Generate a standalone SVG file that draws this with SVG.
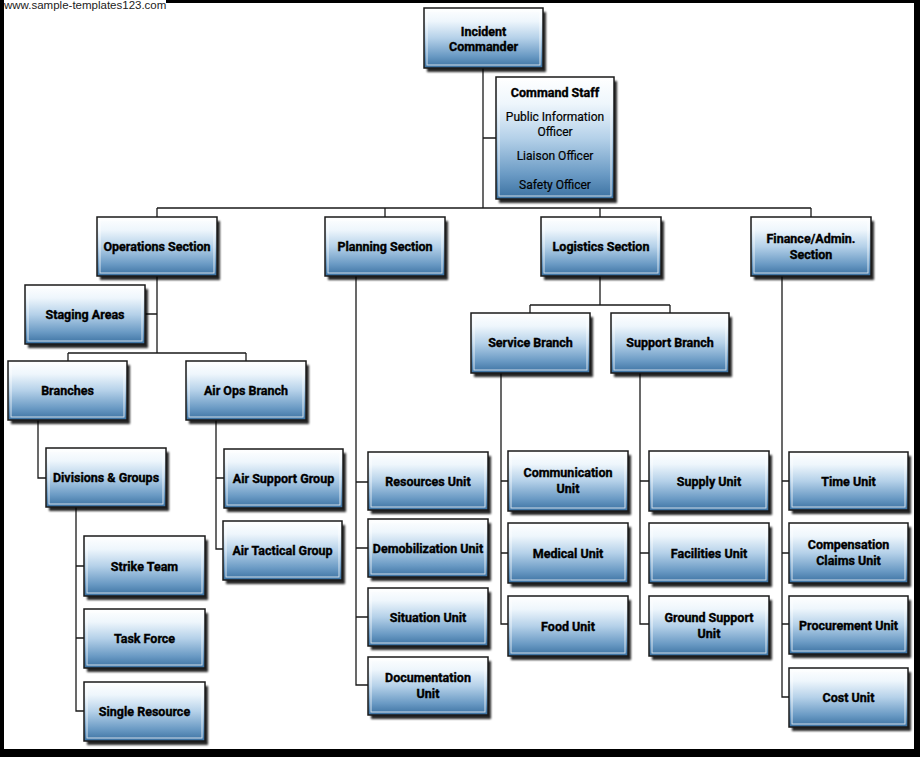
<svg xmlns="http://www.w3.org/2000/svg" width="920" height="757" viewBox="0 0 920 757">
<defs>
<linearGradient id="g" x1="0" y1="0" x2="0" y2="1">
<stop offset="0" stop-color="#ffffff"/>
<stop offset="0.22" stop-color="#eef6fc"/>
<stop offset="0.5" stop-color="#b5d1e9"/>
<stop offset="0.8" stop-color="#6a9ac4"/>
<stop offset="1" stop-color="#3a70a0"/>
</linearGradient>
<filter id="sh" x="-10%" y="-10%" width="130%" height="130%">
<feGaussianBlur stdDeviation="1.2"/>
</filter>
<style>
.sh{fill:#000;opacity:0.85;filter:url(#sh)}
.bx{fill:url(#g);stroke:#1a1a1a;stroke-width:1.5}
.in{fill:none;stroke:#ffffff;stroke-opacity:0.75;stroke-width:1}
.t{font-family:Roboto,"Liberation Sans",sans-serif;font-weight:bold;font-size:12.5px;fill:#000;stroke:#000;stroke-width:0.35;text-anchor:middle}
.r{font-family:Roboto,"Liberation Sans",sans-serif;font-weight:normal;font-size:12px;fill:#000;stroke:#000;stroke-width:0.2;text-anchor:middle}
.ln{fill:none;stroke:#1a1a1a;stroke-width:1.3}
.wm{font-family:"Liberation Sans",Arial,sans-serif;font-size:11.5px;fill:#222}
</style>
</defs>
<rect width="920" height="757" fill="#ffffff"/>
<g id="frame">
<rect x="0" y="0" width="920" height="3" fill="#000"/>
<rect x="0" y="0" width="4" height="757" fill="#000"/>
<rect x="914" y="0" width="6" height="757" fill="#000"/>
<rect x="0" y="749" width="920" height="8" fill="#000"/>
<rect x="4" y="0" width="162" height="11" fill="#fff"/>
<text class="wm" x="4" y="8.5">www.sample-templates123.com</text>
</g>
<g id="connectors">
<path class="ln" d="M483 68V208M483 138H496M157 208H811M157 208V217M385 208V217M600 208V217M811 208V217"/>
<path class="ln" d="M157 276V353M145 314H157M68 353H246M68 353V361M246 353V361"/>
<path class="ln" d="M38 420V478H46"/>
<path class="ln" d="M76 507V711H84M76 566H84M76 638H84"/>
<path class="ln" d="M216 420V549H223M216 478H224"/>
<path class="ln" d="M356 276V685H368M356 482H368M356 548H368M356 617H368"/>
<path class="ln" d="M600 276V305M530 305H670M530 305V313M670 305V313"/>
<path class="ln" d="M501 373V624H508M501 481H508M501 553H508"/>
<path class="ln" d="M640 373V624H649M640 481H649M640 553H649"/>
<path class="ln" d="M782 276V697H789M782 481H789M782 553H789M782 624H789"/>
</g>
<g id="n-ic"><rect class="sh" x="427" y="12" width="119" height="60"/><rect class="bx" x="424" y="8" width="119" height="60"/><rect class="in" x="427" y="11" width="113" height="54"/><text class="t" x="483.5" y="36">Incident</text><text class="t" x="483.5" y="51">Commander</text></g>
<g id="n-cs"><rect class="sh" x="499" y="81" width="118" height="122"/><rect class="bx" x="496" y="77" width="118" height="122"/><rect class="in" x="499" y="80" width="112" height="116"/><text class="t" x="555" y="97">Command Staff</text><text class="r" x="555" y="121">Public Information</text><text class="r" x="555" y="136">Officer</text><text class="r" x="555" y="160">Liaison Officer</text><text class="r" x="555" y="189">Safety Officer</text></g>
<g id="n-ops"><rect class="sh" x="100" y="221" width="120" height="59"/><rect class="bx" x="97" y="217" width="120" height="59"/><rect class="in" x="100" y="220" width="114" height="53"/><text class="t" x="157" y="251">Operations Section</text></g>
<g id="n-plan"><rect class="sh" x="328" y="221" width="120" height="59"/><rect class="bx" x="325" y="217" width="120" height="59"/><rect class="in" x="328" y="220" width="114" height="53"/><text class="t" x="385" y="251">Planning Section</text></g>
<g id="n-log"><rect class="sh" x="544" y="221" width="120" height="59"/><rect class="bx" x="541" y="217" width="120" height="59"/><rect class="in" x="544" y="220" width="114" height="53"/><text class="t" x="601" y="251">Logistics Section</text></g>
<g id="n-fin"><rect class="sh" x="754" y="221" width="120" height="59"/><rect class="bx" x="751" y="217" width="120" height="59"/><rect class="in" x="754" y="220" width="114" height="53"/><text class="t" x="811" y="243">Finance/Admin.</text><text class="t" x="811" y="259">Section</text></g>
<g id="n-staging"><rect class="sh" x="28" y="289" width="120" height="59"/><rect class="bx" x="25" y="285" width="120" height="59"/><rect class="in" x="28" y="288" width="114" height="53"/><text class="t" x="85" y="319">Staging Areas</text></g>
<g id="n-branches"><rect class="sh" x="11" y="365" width="119" height="59"/><rect class="bx" x="8" y="361" width="119" height="59"/><rect class="in" x="11" y="364" width="113" height="53"/><text class="t" x="67.5" y="395">Branches</text></g>
<g id="n-airops"><rect class="sh" x="189" y="365" width="120" height="59"/><rect class="bx" x="186" y="361" width="120" height="59"/><rect class="in" x="189" y="364" width="114" height="53"/><text class="t" x="246" y="395">Air Ops Branch</text></g>
<g id="n-divgroups"><rect class="sh" x="49" y="452" width="120" height="59"/><rect class="bx" x="46" y="448" width="120" height="59"/><rect class="in" x="49" y="451" width="114" height="53"/><text class="t" x="106" y="482">Divisions &amp; Groups</text></g>
<g id="n-airsupport"><rect class="sh" x="227" y="453" width="119" height="59"/><rect class="bx" x="224" y="449" width="119" height="59"/><rect class="in" x="227" y="452" width="113" height="53"/><text class="t" x="283.5" y="483">Air Support Group</text></g>
<g id="n-airtactical"><rect class="sh" x="226" y="525" width="119" height="59"/><rect class="bx" x="223" y="521" width="119" height="59"/><rect class="in" x="226" y="524" width="113" height="53"/><text class="t" x="282.5" y="555">Air Tactical Group</text></g>
<g id="n-strike"><rect class="sh" x="87" y="540" width="121" height="60"/><rect class="bx" x="84" y="536" width="121" height="60"/><rect class="in" x="87" y="539" width="115" height="54"/><text class="t" x="144.5" y="571">Strike Team</text></g>
<g id="n-taskforce"><rect class="sh" x="87" y="613" width="121" height="59"/><rect class="bx" x="84" y="609" width="121" height="59"/><rect class="in" x="87" y="612" width="115" height="53"/><text class="t" x="144.5" y="643">Task Force</text></g>
<g id="n-single"><rect class="sh" x="87" y="686" width="121" height="59"/><rect class="bx" x="84" y="682" width="121" height="59"/><rect class="in" x="87" y="685" width="115" height="53"/><text class="t" x="144.5" y="716">Single Resource</text></g>
<g id="n-resources"><rect class="sh" x="371" y="456" width="120" height="58"/><rect class="bx" x="368" y="452" width="120" height="58"/><rect class="in" x="371" y="455" width="114" height="52"/><text class="t" x="428" y="485.5">Resources Unit</text></g>
<g id="n-demob"><rect class="sh" x="371" y="523" width="120" height="58"/><rect class="bx" x="368" y="519" width="120" height="58"/><rect class="in" x="371" y="522" width="114" height="52"/><text class="t" x="428" y="552.5">Demobilization Unit</text></g>
<g id="n-situation"><rect class="sh" x="371" y="592" width="120" height="58"/><rect class="bx" x="368" y="588" width="120" height="58"/><rect class="in" x="371" y="591" width="114" height="52"/><text class="t" x="428" y="621.5">Situation Unit</text></g>
<g id="n-documentation"><rect class="sh" x="371" y="661" width="120" height="58"/><rect class="bx" x="368" y="657" width="120" height="58"/><rect class="in" x="371" y="660" width="114" height="52"/><text class="t" x="428" y="682">Documentation</text><text class="t" x="428" y="698">Unit</text></g>
<g id="n-service"><rect class="sh" x="474" y="317" width="119" height="60"/><rect class="bx" x="471" y="313" width="119" height="60"/><rect class="in" x="474" y="316" width="113" height="54"/><text class="t" x="530.5" y="347">Service Branch</text></g>
<g id="n-support"><rect class="sh" x="614" y="317" width="118" height="60"/><rect class="bx" x="611" y="313" width="118" height="60"/><rect class="in" x="614" y="316" width="112" height="54"/><text class="t" x="670" y="347">Support Branch</text></g>
<g id="n-communication"><rect class="sh" x="511" y="455" width="120" height="60"/><rect class="bx" x="508" y="451" width="120" height="60"/><rect class="in" x="511" y="454" width="114" height="54"/><text class="t" x="568" y="477">Communication</text><text class="t" x="568" y="493">Unit</text></g>
<g id="n-medical"><rect class="sh" x="511" y="527" width="120" height="60"/><rect class="bx" x="508" y="523" width="120" height="60"/><rect class="in" x="511" y="526" width="114" height="54"/><text class="t" x="568" y="557.5">Medical Unit</text></g>
<g id="n-food"><rect class="sh" x="511" y="600" width="120" height="60"/><rect class="bx" x="508" y="596" width="120" height="60"/><rect class="in" x="511" y="599" width="114" height="54"/><text class="t" x="568" y="630.5">Food Unit</text></g>
<g id="n-supply"><rect class="sh" x="652" y="455" width="120" height="60"/><rect class="bx" x="649" y="451" width="120" height="60"/><rect class="in" x="652" y="454" width="114" height="54"/><text class="t" x="709" y="485.5">Supply Unit</text></g>
<g id="n-facilities"><rect class="sh" x="652" y="527" width="120" height="60"/><rect class="bx" x="649" y="523" width="120" height="60"/><rect class="in" x="652" y="526" width="114" height="54"/><text class="t" x="709" y="557.5">Facilities Unit</text></g>
<g id="n-ground"><rect class="sh" x="652" y="600" width="120" height="60"/><rect class="bx" x="649" y="596" width="120" height="60"/><rect class="in" x="652" y="599" width="114" height="54"/><text class="t" x="709" y="622">Ground Support</text><text class="t" x="709" y="638">Unit</text></g>
<g id="n-time"><rect class="sh" x="792" y="456" width="119" height="58"/><rect class="bx" x="789" y="452" width="119" height="58"/><rect class="in" x="792" y="455" width="113" height="52"/><text class="t" x="848.5" y="485.5">Time Unit</text></g>
<g id="n-compensation"><rect class="sh" x="792" y="527" width="119" height="60"/><rect class="bx" x="789" y="523" width="119" height="60"/><rect class="in" x="792" y="526" width="113" height="54"/><text class="t" x="848.5" y="549">Compensation</text><text class="t" x="848.5" y="565">Claims Unit</text></g>
<g id="n-procurement"><rect class="sh" x="792" y="600" width="119" height="58"/><rect class="bx" x="789" y="596" width="119" height="58"/><rect class="in" x="792" y="599" width="113" height="52"/><text class="t" x="848.5" y="629.5">Procurement Unit</text></g>
<g id="n-cost"><rect class="sh" x="792" y="672" width="119" height="59"/><rect class="bx" x="789" y="668" width="119" height="59"/><rect class="in" x="792" y="671" width="113" height="53"/><text class="t" x="848.5" y="702">Cost Unit</text></g>
</svg>
